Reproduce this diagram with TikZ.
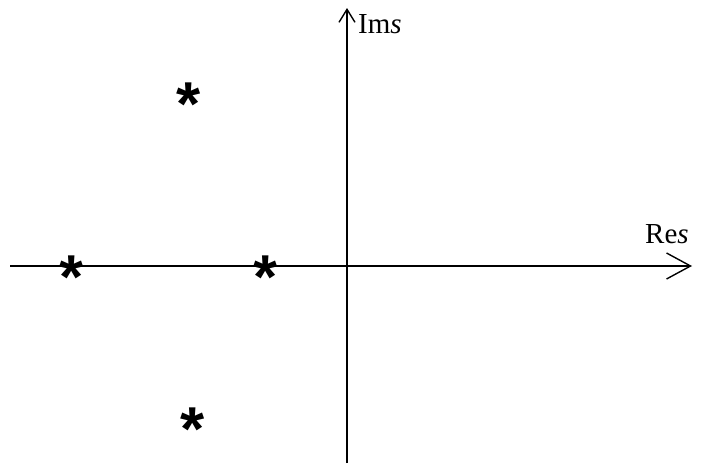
\documentclass[tikz,border=0pt]{standalone}
\usepackage{fontspec}
\setmainfont{Liberation Serif}
\newfontfamily\starfont{Liberation Sans}
\usetikzlibrary{arrows.meta}
\tikzset{
  axis/.style={line width=1.6pt},
  pole/.style={inner sep=0pt, outer sep=0pt, anchor=north, font=\starfont\bfseries\fontsize{62}{62}\selectfont},
  axlabel/.style={inner sep=0pt, anchor=base west, font=\fontsize{29}{29}\selectfont}
}
\begin{document}
\begin{tikzpicture}[x=1pt,y=-1pt]
\useasboundingbox (0,0) rectangle (717,463);
\coordinate (hl) at (10,266);
\coordinate (hr) at (692,266);
\coordinate (vb) at (347,463);
\coordinate (vt) at (347,8);
\draw[axis,-{Straight Barb[length=24pt,width=26pt,line width=1.4pt]}] (hl) -- (hr);
\draw[axis,-{Straight Barb[length=13pt,width=16pt,line width=1.4pt]}] (vb) -- (vt);
\node[axlabel] (im) at (358,33) {Im\textit{s}};
\node[axlabel] (re) at (645,243) {Re\textit{s}};
\node[pole] (p1) at (189,83) {*};
\node[pole] (p2) at (72,256) {*};
\node[pole] (p3) at (266,256) {*};
\node[pole] (p4) at (193,408) {*};
\end{tikzpicture}
\end{document}
